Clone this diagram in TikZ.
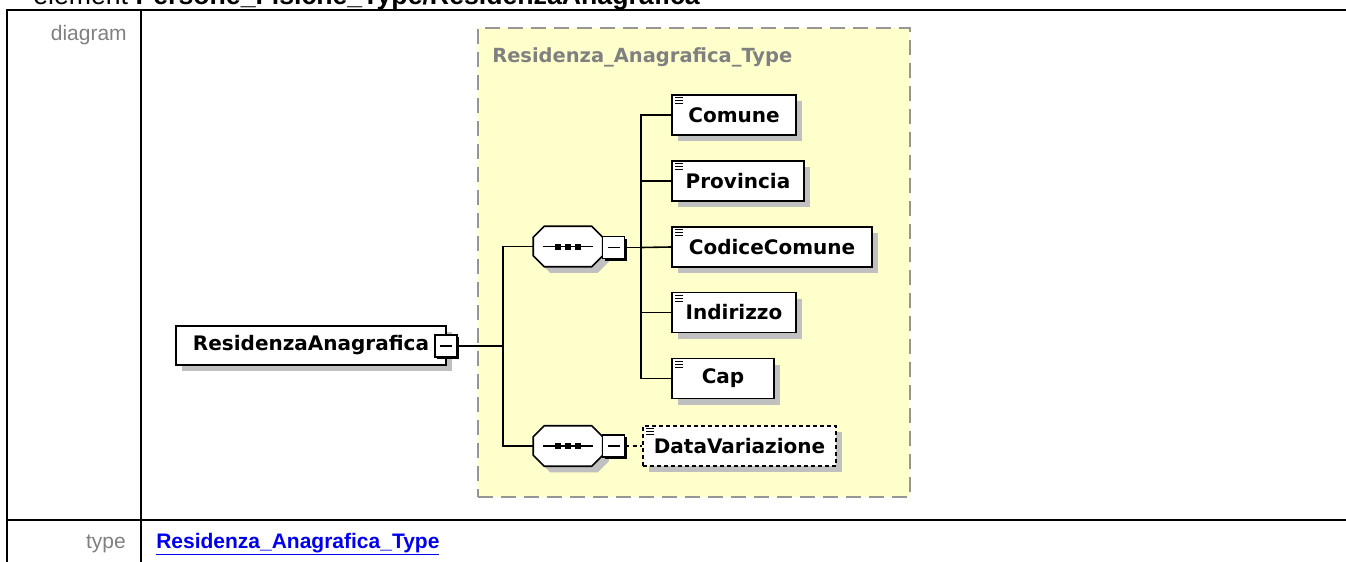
\documentclass[tikz,border=0pt]{standalone}
\usepackage{fontspec}
\setmainfont{Liberation Sans}
\newfontfamily\xsdfont{DejaVu Sans}
\usetikzlibrary{shadows,calc}
\definecolor{typeyellow}{RGB}{255,255,204}
\definecolor{shadegray}{RGB}{192,192,192}
\definecolor{labelgray}{RGB}{128,128,128}
\definecolor{bordergray}{RGB}{150,150,150}
\definecolor{linkblue}{RGB}{0,0,238}
\newcommand\octpath[2]{($(#1.north west)+(11+#2,#2)$) -- ($(#1.north east)+(-11+#2,#2)$) -- ($(#1.north east)+(#2,11+#2)$) -- ($(#1.south east)+(#2,-11+#2)$) -- ($(#1.south east)+(-11+#2,#2)$) -- ($(#1.south west)+(11+#2,#2)$) -- ($(#1.south west)+(#2,-11+#2)$) -- ($(#1.north west)+(#2,11+#2)$) -- cycle}
\newcommand\seqinside[1]{%
  \draw[line width=1.1pt] ($(#1.center)+(-25,0)$) -- ($(#1.center)+(25,0)$);
  \fill ($(#1.center)+(-13,-3)$) rectangle ($(#1.center)+(-7,3)$);
  \fill ($(#1.center)+(-3,-3)$) rectangle ($(#1.center)+(3,3)$);
  \fill ($(#1.center)+(7,-3)$) rectangle ($(#1.center)+(13,3)$);}
\newcommand\simicon[1]{%
  \draw[iconline] ($(#1.north west)+(4,3.5)$) -- +(8,0);
  \draw[iconline] ($(#1.north west)+(4,6.5)$) -- +(8,0);
  \draw[iconline] ($(#1.north west)+(4,9.5)$) -- +(8,0);}
\begin{document}
\begin{tikzpicture}[x=0.75pt,y=-0.75pt,
  conn/.style={line width=1.2pt, draw=black},
  elbox/.style={draw=black, line width=1.3pt, fill=white, inner sep=0pt, minimum height=30pt,
    font=\xsdfont\bfseries\fontsize{15}{17}\selectfont,
    drop shadow={shadow xshift=4.5pt, shadow yshift=-4.5pt, opacity=1, fill=shadegray}},
  optbox/.style={elbox, dash pattern=on 3pt off 2.25pt},
  minusbox/.style={draw=black, line width=1.1pt, fill=white, minimum size=16.5pt, inner sep=0pt,
    drop shadow={shadow xshift=1.8pt, shadow yshift=-1.8pt, opacity=1, fill=black}},
  seqslot/.style={minimum width=51.75pt, minimum height=30pt, inner sep=0pt},
  seqline/.style={draw=black, line width=1.2pt, fill=white},
  iconline/.style={line width=0.9pt, black},
  tabline/.style={line width=1.8pt, black},
  tablabel/.style={font=\fontsize{15.75}{18}\selectfont, text=labelgray, inner sep=0pt},
  typebox/.style={draw=bordergray, line width=1.5pt, dash pattern=on 11.25pt off 6pt, fill=typeyellow, inner sep=0pt},
]
\useasboundingbox (0,0) rectangle (1346,561);
\fill[white] (0,0) rectangle (1346,561);
\clip (0,0) rectangle (1346,561);

% heading (cut at the top, as in the reference)
\node[anchor=base west, inner sep=0pt, font=\fontsize{20}{24}\selectfont] (htitle) at (33,4)
  {element \textbf{Persone\_Fisiche\_Type/ResidenzaAnagrafica}};

% table
\draw[tabline] (7,600) -- (7,10) -- (1400,10);
\draw[tabline] (141,10) -- (141,600);
\draw[tabline] (7,520) -- (1400,520);
\node[tablabel, anchor=base east] (ldiag) at (127,40) {diagram};
\node[tablabel, anchor=base east] (ltype) at (126,548) {type};
\node[anchor=base west, inner sep=0pt, font=\bfseries\fontsize{15.75}{18}\selectfont, text=linkblue] (link) at (156,548)
  {\underline{Residenza\_Anagrafica\_Type}};

% complex type box
\node[typebox, minimum width=324pt, minimum height=351.75pt] (tbox) at (694,262.5) {};
\node[anchor=west, inner sep=0pt, font=\xsdfont\bfseries\fontsize{14.6}{17}\selectfont, text=labelgray] (ttitle) at (492,57)
  {Residenza\_Anagrafica\_Type};

% root element
\node[elbox, minimum width=202.5pt, minimum height=29.25pt] (ra) at (311,345.5) {ResidenzaAnagrafica};
\node[minusbox] (rm) at (446,346) {\rule{9pt}{1.3pt}};

% sequences
\node[seqslot] (s1) at (568,246.5) {};
\node[seqslot] (s2) at (568,446) {};
\fill[shadegray] \octpath{s1}{6};
\draw[seqline] \octpath{s1}{0};
\seqinside{s1}
\fill[shadegray] \octpath{s2}{6};
\draw[seqline] \octpath{s2}{0};
\seqinside{s2}
\node[minusbox] (m1) at (613.5,247.5) {\rule{9pt}{1.3pt}};
\node[minusbox] (m2) at (613.5,446) {\rule{9pt}{1.3pt}};

% child elements
\node[elbox, minimum width=93pt] (comune) at (734,115) {Comune};
\node[elbox, minimum width=99pt] (prov) at (738,181) {Provincia};
\node[elbox, minimum width=150pt] (codice) at (772,247) {CodiceComune};
\node[elbox, minimum width=93pt] (indir) at (734,312.5) {Indirizzo};
\node[elbox, minimum width=76.5pt] (cap) at (723,378.5) {Cap};
\node[optbox, minimum width=144.75pt] (dv) at (739.5,446) {DataVariazione};
\simicon{comune}
\simicon{prov}
\simicon{codice}
\simicon{indir}
\simicon{cap}
\simicon{dv}

% connectors
\coordinate (b0) at (503,346);
\coordinate (b1) at (641,247.5);
\draw[conn] (rm.east) -- (b0);
\draw[conn] (b0) |- (s1.west);
\draw[conn] (b0) |- (s2.west);
\draw[conn] (m1.east) -- (b1);
\draw[conn] (b1) |- (comune.west);
\draw[conn] (b1) |- (prov.west);
\draw[conn] (b1) -- (codice.west);
\draw[conn] (b1) |- (indir.west);
\draw[conn] (b1) |- (cap.west);
\draw[conn, dash pattern=on 3pt off 2.5pt] (m2.east) -- (dv.west);
\end{tikzpicture}
\end{document}
